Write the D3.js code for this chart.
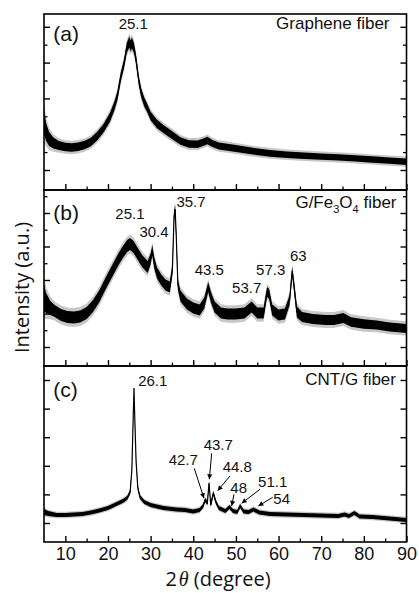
<!DOCTYPE html>
<html>
<head>
<meta charset="utf-8">
<title>XRD patterns</title>
<script src="https://cdn.jsdelivr.net/npm/d3@7"></script>
<style>
    body { margin: 0; background: #fff; }
    .chart text { font-family: "Liberation Sans", Arial, sans-serif; fill: #111; }
    .chart .axis-title { font-family: "Open Sans", sans-serif; }
</style>
</head>
<body>
<div class="container"></div>
<script>
// values: 2theta (degree), intensity (a.u.), half width of the noisy band (a.u.)
var grapheneAngle = [5.0, 5.5, 6.2, 7.2, 8.5, 10, 11.5, 13, 14.5, 16,
    17.5, 19, 20.5, 21.5, 22.2, 23, 23.8, 24.4, 25.0, 25.3,
    25.6, 26.1, 26.6, 27.2, 27.8, 28.5, 29.2, 30, 31.5, 33,
    35, 37, 39, 41, 42.5, 43.3, 44.5, 46, 48, 50,
    54, 58, 62, 66, 70, 74, 78, 82, 86, 90];
var grapheneIntensity = [680, 580, 510, 470, 445, 430, 425, 432, 450, 480,
    540, 620, 730, 840, 940, 1130, 1270, 1420, 1480, 1440,
    1470, 1420, 1300, 1100, 970, 880, 820, 740, 660, 610,
    550, 490, 460, 458, 480, 495, 465, 440, 428, 415,
    388, 367, 352, 342, 334, 326, 316, 305, 294, 283];
var grapheneNoise = [120, 90, 70, 55, 45, 42, 42, 42, 42, 42,
    42, 42, 45, 45, 45, 45, 45, 50, 55, 55,
    55, 50, 45, 45, 45, 45, 42, 42, 42, 40,
    40, 38, 38, 38, 38, 38, 36, 36, 35, 35,
    34, 34, 33, 33, 32, 32, 32, 32, 32, 32];

var fe3o4Angle = [5.0, 5.5, 6.5, 7.5, 9, 10.5, 12, 13.5, 15, 16.5,
    18, 19.5, 21, 22.5, 23.5, 24.5, 25.2, 26, 27, 28,
    29.3, 30.0, 30.4, 30.8, 31.5, 32.5, 33.5, 34.5, 35.1, 35.5,
    35.75, 36.0, 36.4, 37, 38.5, 40, 41.5, 42.6, 43.5, 44.2,
    45, 46.5, 48, 50, 52, 53.7, 55, 56.5, 57.3, 57.8,
    58.5, 60, 61.5, 62.6, 63.2, 63.6, 64.3, 65.5, 68, 71,
    73, 75.2, 77, 80, 83, 86, 90];
var fe3o4Intensity = [680, 630, 580, 550, 510, 490, 485, 495, 530, 600,
    700, 830, 950, 1070, 1140, 1200, 1220, 1190, 1120, 1050,
    990, 1070, 1160, 1040, 930, 860, 810, 790, 960, 1500,
    1570, 1310, 810, 700, 620, 580, 560, 630, 790, 680,
    590, 530, 520, 520, 530, 590, 530, 530, 740, 720,
    560, 510, 520, 660, 950, 810, 540, 490, 470, 460,
    460, 480, 440, 420, 410, 390, 375];
var fe3o4Noise = [130, 100, 70, 60, 60, 60, 60, 60, 60, 60,
    60, 60, 60, 60, 60, 60, 60, 60, 60, 60,
    60, 55, 50, 55, 55, 55, 55, 55, 50, 45,
    45, 45, 50, 55, 55, 55, 55, 55, 50, 55,
    55, 55, 55, 55, 55, 55, 55, 55, 50, 50,
    55, 55, 55, 50, 45, 50, 55, 50, 50, 50,
    50, 50, 48, 48, 46, 46, 46];

var cntAngle = [5, 6, 8, 10, 12, 14, 16, 18, 20, 22,
    23.5, 24.5, 25.2, 25.6, 25.9, 26.1, 26.3, 26.6, 27, 27.5,
    28.5, 30, 33, 36, 38, 40, 41.5, 42.3, 42.8, 43.3,
    43.7, 44.1, 44.7, 45.3, 46, 47.5, 48.5, 49.3, 50.3, 51.0,
    51.8, 53, 54.1, 55.5, 58, 62, 66, 70, 74, 75.5,
    76.5, 77.8, 79, 82, 86, 90];
var cntIntensity = [300, 285, 270, 270, 275, 280, 295, 315, 340, 380,
    410, 440, 500, 720, 1220, 1540, 1220, 800, 540, 450,
    400, 370, 340, 325, 320, 305, 320, 360, 420, 390,
    590, 370, 490, 400, 340, 310, 350, 310, 300, 360,
    305, 300, 325, 295, 280, 275, 270, 265, 260, 275,
    260, 290, 255, 250, 235, 220];
var cntNoise = [30, 24, 21, 21, 21, 21, 21, 21, 21, 21,
    21, 21, 21, 20, 18, 16, 18, 20, 21, 21,
    21, 21, 21, 21, 21, 21, 21, 21, 21, 21,
    18, 21, 21, 21, 21, 21, 21, 21, 21, 21,
    21, 21, 21, 21, 21, 21, 21, 21, 21, 21,
    21, 21, 21, 21, 21, 21];

var panelLetters = ["(a)", "(b)", "(c)"];
var panelNames = ["Graphene fiber", "G/Fe3O4 fiber", "CNT/G fiber"];
var grapheneLabels = ["25.1"];
var fe3o4Labels = ["25.1", "30.4", "35.7", "43.5", "53.7", "57.3", "63"];
var cntLabels = ["26.1", "42.7", "43.7", "44.8", "48", "51.1", "54"];

var xTicks = [10, 20, 30, 40, 50, 60, 70, 80, 90];
var xMinorTicks = [15, 25, 35, 45, 55, 65, 75, 85];
var grapheneYMajor = [200, 558, 916, 1274, 1632];
var grapheneYMinor = [379, 737, 1095, 1453];
var fe3o4YMajor = [190, 525, 860, 1195, 1530];
var fe3o4YMinor = [358, 693, 1028, 1363, 1698];
var cntYMajor = [190, 476, 762, 1048, 1334, 1620];
var cntYMinor = [];

var chart_utility = {
    config: {
        width: 419,
        height: 593,
        left: 44,
        right: 406.5,
        top: 14,
        panelHeight: 176,
        yDomain: [0, 1760],
        letterDy: [19.5, 23, 24],
        nameDy: [20, 23, 24],
        nameInset: [17, 10, 10.5],
        // label centres in data space [2theta, a.u.]
        labelPos: [
            [[25.94, 1660]],
            [[25.16, 1527], [30.79, 1343], [39.47, 1643], [43.76, 960], [52.53, 787], [58.15, 960], [64.63, 1100]],
            [[30.5, 1610], [37.66, 827], [45.87, 970], [50.32, 753], [50.65, 547], [58.62, 603], [60.73, 430]]
        ],
        // arrows in panel (c): [from angle, from a.u., to angle, to a.u.], null = no arrow
        arrows: [null, [40.24, 737, 42.51, 437], [44.32, 887, 43.76, 627], [48.61, 660, 45.73, 513],
            [49.55, 477, 49.01, 360], [55.64, 527, 51.35, 387], [58.62, 447, 55.25, 360]]
    },

    x: d3.scaleLinear().domain([5, 90]).range([44, 406.5]),

    y: (i) => {
        var c = chart_utility.config;
        var top = c.top + i * c.panelHeight;
        return d3.scaleLinear().domain(c.yDomain).range([top + c.panelHeight, top]);
    },

    cleanAxis: (g, width) => {
        g.select(".domain").remove();
        g.selectAll(".tick line").attr("stroke", "#000").attr("stroke-width", width);
    }
};

var panels = [
    { angle: grapheneAngle, intensity: grapheneIntensity, noise: grapheneNoise, labels: grapheneLabels, major: grapheneYMajor, minor: grapheneYMinor },
    { angle: fe3o4Angle, intensity: fe3o4Intensity, noise: fe3o4Noise, labels: fe3o4Labels, major: fe3o4YMajor, minor: fe3o4YMinor },
    { angle: cntAngle, intensity: cntIntensity, noise: cntNoise, labels: cntLabels, major: cntYMajor, minor: cntYMinor }
];

var cfg = chart_utility.config;
var x = chart_utility.x;

var svg = d3.select(".container").append("svg")
    .attr("class", "chart")
    .attr("width", cfg.width)
    .attr("height", cfg.height);

var defs = svg.append("defs");
defs.append("marker")
    .attr("id", "arrow")
    .attr("viewBox", "0 0 10 10")
    .attr("refX", 10).attr("refY", 5)
    .attr("markerUnits", "userSpaceOnUse")
    .attr("markerWidth", 6).attr("markerHeight", 5)
    .attr("orient", "auto")
    .append("path").attr("d", "M0,0L10,5L0,10z").attr("fill", "#000");

panels.forEach((p, i) => {
    var y = chart_utility.y(i);
    var top = cfg.top + i * cfg.panelHeight;
    var bottom = top + cfg.panelHeight;
    var g = svg.append("g");

    defs.append("clipPath").attr("id", "clip" + i)
        .append("rect")
        .attr("x", cfg.left).attr("y", top)
        .attr("width", cfg.right - cfg.left).attr("height", cfg.panelHeight);

    var pts = p.angle.map((a, j) => ({ a: a, v: p.intensity[j], n: p.noise[j] }));
    var band = (k) => d3.area()
        .x((d) => x(d.a))
        .y0((d) => y(d.v - k * d.n))
        .y1((d) => y(d.v + k * d.n));

    var plot = g.append("g").attr("clip-path", `url(#clip${i})`);
    plot.append("path").datum(pts).attr("d", band(1.6)).attr("fill", "#000").attr("opacity", 0.22);
    plot.append("path").datum(pts).attr("d", band(1)).attr("fill", "#000");
    plot.append("path").datum(pts)
        .attr("d", d3.line().x((d) => x(d.a)).y((d) => y(d.v)))
        .attr("fill", "none").attr("stroke", "#000").attr("stroke-width", 1.2);

    // bottom ticks, pointing inward
    g.append("g").attr("transform", `translate(0,${bottom})`)
        .call(d3.axisBottom(x).tickValues(xTicks).tickSize(-6).tickPadding(5)
            .tickFormat(i === 2 ? d3.format("d") : ""))
        .attr("font-size", 18).attr("font-family", "\"Liberation Sans\", Arial, sans-serif")
        .call((a) => chart_utility.cleanAxis(a, 1.4));
    g.append("g").attr("transform", `translate(0,${bottom})`)
        .call(d3.axisBottom(x).tickValues(xMinorTicks).tickSize(-3.5).tickFormat(""))
        .call((a) => chart_utility.cleanAxis(a, 1.3));

    [[d3.axisLeft, cfg.left], [d3.axisRight, cfg.right]].forEach(([axis, pos]) => {
        g.append("g").attr("transform", `translate(${pos},0)`)
            .call(axis(y).tickValues(p.major).tickSize(-6).tickFormat(""))
            .call((a) => chart_utility.cleanAxis(a, 1.4));
        g.append("g").attr("transform", `translate(${pos},0)`)
            .call(axis(y).tickValues(p.minor).tickSize(-3.5).tickFormat(""))
            .call((a) => chart_utility.cleanAxis(a, 1.3));
    });

    g.append("rect")
        .attr("x", cfg.left).attr("y", top)
        .attr("width", cfg.right - cfg.left).attr("height", cfg.panelHeight)
        .attr("fill", "none").attr("stroke", "#000").attr("stroke-width", 1.6);

    g.append("text")
        .attr("x", cfg.left + 9.3).attr("y", top + cfg.letterDy[i]).attr("dy", "0.35em")
        .attr("font-size", 21)
        .text(panelLetters[i]);

    // name, digits after a letter are set as subscripts (Fe3O4)
    var name = g.append("text")
        .attr("x", cfg.right - cfg.nameInset[i]).attr("y", top + cfg.nameDy[i]).attr("dy", "0.35em")
        .attr("text-anchor", "end").attr("font-size", 17);
    panelNames[i].split(/(\d)/).filter((s) => s.length).forEach((s) => {
        if (/^\d$/.test(s)) {
            name.append("tspan").attr("font-size", 11).attr("dy", 5).text(s);
        } else {
            name.append("tspan").attr("dy", name.selectAll("tspan").size() ? -5 : 0).text(s);
        }
    });

    p.labels.forEach((lab, j) => {
        var pos = cfg.labelPos[i][j];
        g.append("text")
            .attr("x", x(pos[0])).attr("y", y(pos[1])).attr("dy", "0.35em")
            .attr("text-anchor", "middle").attr("font-size", 15)
            .text(lab);
        var arr = i === 2 ? cfg.arrows[j] : null;
        if (arr) {
            g.append("line")
                .attr("x1", x(arr[0])).attr("y1", y(arr[1]))
                .attr("x2", x(arr[2])).attr("y2", y(arr[3]))
                .attr("stroke", "#000").attr("stroke-width", 1)
                .attr("marker-end", "url(#arrow)");
        }
    });
});

// axis titles
var xt = svg.append("text").attr("class", "axis-title")
    .attr("x", 218).attr("y", 586)
    .attr("text-anchor", "middle").attr("font-size", 20);
xt.append("tspan").text("2");
xt.append("tspan").attr("dx", 2).attr("font-family", "\"Liberation Serif\", serif").attr("font-style", "italic").text("\u03b8");
xt.append("tspan").text(" (degree)");

svg.append("text").attr("class", "axis-title")
    .attr("transform", "translate(29.3,287.5) rotate(-90)")
    .attr("text-anchor", "middle").attr("font-size", 20)
    .text("Intensity (a.u.)");
</script>
</body>
</html>
